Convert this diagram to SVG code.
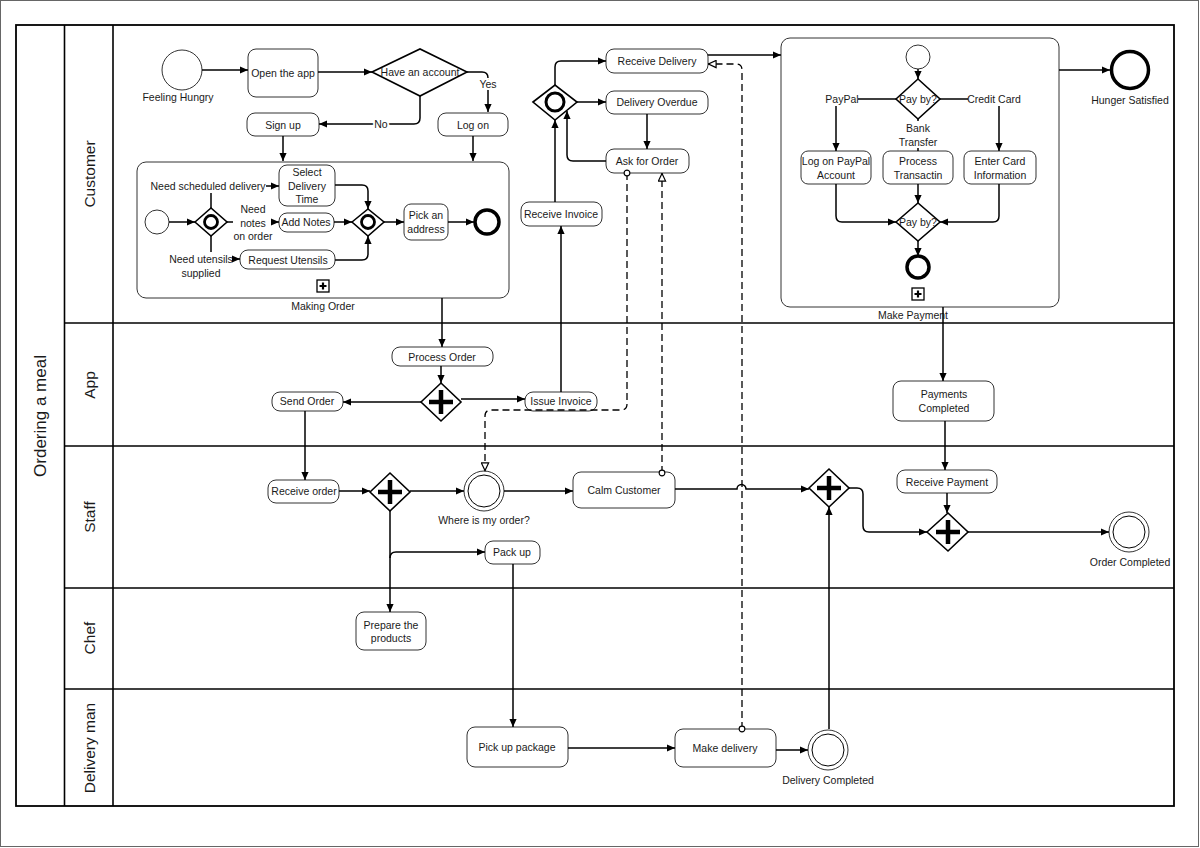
<svg xmlns="http://www.w3.org/2000/svg" width="1200" height="848" viewBox="0 0 1200 848">
<style>
text{font-family:"Liberation Sans",Arial,sans-serif;font-size:10.5px;fill:#1a1a1a;text-anchor:middle;dominant-baseline:central}
.lane{font-size:15.5px}
.pool{font-size:17px}
.task{fill:#fff;stroke:#333;stroke-width:1}
.sub{fill:#fff;stroke:#333;stroke-width:1}
.gw{fill:#fff;stroke:#000;stroke-width:1.6}
.plus{stroke:#000;stroke-width:4.5;fill:none}
.ev{fill:#fff;stroke:#333;stroke-width:1}
.end{fill:#fff;stroke:#000;stroke-width:3.5}
.flow{fill:none;stroke:#000;stroke-width:1.5;marker-end:url(#arr)}
.line{fill:none;stroke:#000;stroke-width:1.5}
.msg{fill:none;stroke:#000;stroke-width:1.3;stroke-dasharray:7,4;marker-start:url(#dot);marker-end:url(#open)}
.halo{stroke:#fff;stroke-width:4;paint-order:stroke}
.sep{stroke:#000;stroke-width:1.6;fill:none}
</style>
<defs>
<marker id="arr" viewBox="0 0 10 10" refX="10" refY="5" markerWidth="9" markerHeight="8" markerUnits="userSpaceOnUse" orient="auto"><path d="M0,0.5 L10,5 L0,9.5 z" fill="#000"/></marker>
<marker id="open" viewBox="0 0 10 10" refX="10" refY="5" markerWidth="10" markerHeight="9" markerUnits="userSpaceOnUse" orient="auto"><path d="M1,1 L9.5,5 L1,9 z" fill="#fff" stroke="#000" stroke-width="1.3"/></marker>
<marker id="dot" viewBox="0 0 10 10" refX="5" refY="5" markerWidth="8" markerHeight="8" markerUnits="userSpaceOnUse" orient="auto"><circle cx="5" cy="5" r="3.6" fill="#fff" stroke="#000" stroke-width="1.4"/></marker>
</defs>
<rect x="0" y="0" width="1200" height="848" fill="#fff"/>
<rect x="0.5" y="0.5" width="1198" height="846" fill="none" stroke="#666" stroke-width="1"/>

<g id="pool">
<rect x="16" y="25" width="1158" height="781" fill="none" stroke="#000" stroke-width="1.8"/>
<line class="sep" x1="64.5" y1="25" x2="64.5" y2="806"/>
<line class="sep" x1="113" y1="25" x2="113" y2="806"/>
<line class="sep" x1="64" y1="323" x2="1174" y2="323"/>
<line class="sep" x1="64" y1="446" x2="1174" y2="446"/>
<line class="sep" x1="64" y1="588" x2="1174" y2="588"/>
<line class="sep" x1="64" y1="689" x2="1174" y2="689"/>
<text class="pool" transform="translate(40,416) rotate(-90)">Ordering a meal</text>
<text class="lane" transform="translate(89,174) rotate(-90)">Customer</text>
<text class="lane" transform="translate(89,385) rotate(-90)">App</text>
<text class="lane" transform="translate(89,517) rotate(-90)">Staff</text>
<text class="lane" transform="translate(89,638) rotate(-90)">Chef</text>
<text class="lane" transform="translate(89,748) rotate(-90)">Delivery man</text>
</g>

<g id="subprocess-making-order">
<rect class="sub" x="137" y="162" width="372" height="136" rx="9"/>
<rect x="317" y="280" width="12" height="12" fill="#fff" stroke="#000" stroke-width="1.3"/>
<path d="M323,282.5 V289.5 M319.5,286 H326.5" stroke="#000" stroke-width="2.2"/>
<text x="323" y="306">Making Order</text>
</g>
<g id="subprocess-make-payment">
<rect class="sub" x="781" y="38" width="278" height="269" rx="9"/>
<rect x="912" y="288" width="12" height="12" fill="#fff" stroke="#000" stroke-width="1.3"/>
<path d="M918,290.5 V297.5 M914.5,294 H921.5" stroke="#000" stroke-width="2.2"/>
<text x="913" y="315">Make Payment</text>
</g>

<g id="feeling-hungry"><circle class="ev" cx="182" cy="70" r="20"/><text x="178" y="97">Feeling Hungry</text></g>
<g id="open-the-app"><rect class="task" x="248" y="49" width="70" height="48" rx="8"/><text x="283" y="73">Open the app</text></g>
<g id="have-an-account"><polygon class="gw" points="372,72 420,49 467,72 420,96"/><text x="420" y="72">Have an account</text></g>
<g id="sign-up"><rect class="task" x="247" y="113" width="72" height="23" rx="8"/><text x="283" y="125">Sign up</text></g>
<g id="log-on"><rect class="task" x="438" y="113" width="70" height="23" rx="8"/><text x="473" y="125">Log on</text></g>

<g id="mo-start"><circle class="ev" cx="157" cy="222" r="12"/></g>
<g id="mo-split"><polygon class="gw" points="195,222 211,208 227,222 211,236"/><circle cx="211" cy="222" r="6.5" fill="none" stroke="#000" stroke-width="2.8"/></g>
<g id="mo-labels">
<text x="208" y="186">Need scheduled delivery</text>
<text x="253" y="209">Need</text><text x="253" y="223">notes</text><text x="253" y="236">on order</text>
<text x="201" y="259">Need utensils</text><text x="201" y="273">supplied</text>
</g>
<g id="select-delivery-time"><rect class="task" x="279" y="165" width="56" height="41" rx="8"/><text x="307" y="172">Select</text><text x="307" y="186">Delivery</text><text x="307" y="199">Time</text></g>
<g id="add-notes"><rect class="task" x="279" y="213" width="55" height="19" rx="8"/><text x="306" y="222">Add Notes</text></g>
<g id="request-utensils"><rect class="task" x="240" y="250" width="95" height="19" rx="8"/><text x="288" y="260">Request Utensils</text></g>
<g id="mo-merge"><polygon class="gw" points="352,222 368,209 384,222 368,236"/><circle cx="368" cy="222" r="6.5" fill="none" stroke="#000" stroke-width="2.8"/></g>
<g id="pick-an-address"><rect class="task" x="404" y="204" width="44" height="36" rx="7"/><text x="426" y="215">Pick an</text><text x="426" y="229">address</text></g>
<g id="mo-end"><circle class="end" cx="487" cy="222" r="12" stroke-width="3.5"/></g>

<g id="event-gateway"><polygon class="gw" points="533,102 555,85 577,102 555,120"/><circle cx="555" cy="102" r="9" fill="none" stroke="#000" stroke-width="3"/></g>
<g id="receive-delivery"><rect class="task" x="606" y="49" width="102" height="24" rx="8"/><text x="657" y="61">Receive Delivery</text></g>
<g id="delivery-overdue"><rect class="task" x="606" y="91" width="102" height="23" rx="8"/><text x="657" y="102">Delivery Overdue</text></g>
<g id="ask-for-order"><rect class="task" x="606" y="149" width="83" height="24" rx="8"/><text x="647" y="161">Ask for Order</text></g>
<g id="receive-invoice"><rect class="task" x="521" y="202" width="81" height="24" rx="8"/><text x="561" y="214">Receive Invoice</text></g>

<g id="mp-start"><circle class="ev" cx="918" cy="57" r="12"/></g>
<g id="pay-by-split"><polygon class="gw" points="896,99 918,79 940,99 918,119"/><text x="918" y="99">Pay by?</text></g>
<g id="mp-labels"><text x="842" y="99">PayPal</text><text x="994" y="99">Credit Card</text><text x="918" y="128">Bank</text><text x="918" y="142">Transfer</text></g>
<g id="log-on-paypal"><rect class="task" x="801" y="151" width="70" height="33" rx="7"/><text x="836" y="161">Log on PayPal</text><text x="836" y="175">Account</text></g>
<g id="process-transactin"><rect class="task" x="883" y="151" width="70" height="33" rx="7"/><text x="918" y="161">Process</text><text x="918" y="175">Transactin</text></g>
<g id="enter-card-information"><rect class="task" x="964" y="151" width="72" height="33" rx="7"/><text x="1000" y="161">Enter Card</text><text x="1000" y="175">Information</text></g>
<g id="pay-by-merge"><polygon class="gw" points="896,222 918,203 940,222 918,241"/><text x="918" y="222">Pay by?</text></g>
<g id="mp-end"><circle class="end" cx="918" cy="267" r="11" stroke-width="3.5"/></g>
<g id="hunger-satisfied"><circle class="end" cx="1130" cy="70" r="18.5" stroke-width="5"/><text x="1130" y="100">Hunger Satisfied</text></g>

<g id="process-order"><rect class="task" x="392" y="347" width="101" height="19" rx="8"/><text x="442" y="357">Process Order</text></g>
<g id="app-parallel"><polygon class="gw" points="421,402 441,383 461,402 441,421"/><path class="plus" d="M441,390 V414 M429,402 H453"/></g>
<g id="send-order"><rect class="task" x="272" y="392" width="71" height="19" rx="8"/><text x="307" y="401">Send Order</text></g>
<g id="issue-invoice"><rect class="task" x="525" y="392" width="72" height="19" rx="8"/><text x="561" y="401">Issue Invoice</text></g>
<g id="payments-completed"><rect class="task" x="893" y="381" width="101" height="40" rx="8"/><text x="944" y="394">Payments</text><text x="944" y="408">Completed</text></g>

<g id="receive-order"><rect class="task" x="268" y="480" width="71" height="23" rx="8"/><text x="304" y="491">Receive order</text></g>
<g id="staff-parallel"><polygon class="gw" points="370,492 390,473 410,492 390,511"/><path class="plus" d="M390,480 V504 M378,492 H402"/></g>
<g id="where-is-my-order"><circle class="ev" cx="484" cy="491" r="20" stroke="#000"/><circle cx="484" cy="491" r="16" fill="none" stroke="#000" stroke-width="1"/><text x="484" y="520">Where is my order?</text></g>
<g id="calm-customer"><rect class="task" x="573" y="472" width="102" height="36" rx="8"/><text x="624" y="490">Calm Customer</text></g>
<g id="upper-parallel"><polygon class="gw" points="809,488 829,469 849,488 829,507"/><path class="plus" d="M829,476 V500 M817,488 H841"/></g>
<g id="receive-payment"><rect class="task" x="897" y="470" width="100" height="23" rx="8"/><text x="947" y="482">Receive Payment</text></g>
<g id="lower-parallel"><polygon class="gw" points="927,532 948,513 968,532 948,551"/><path class="plus" d="M948,520 V544 M936,532 H960"/></g>
<g id="order-completed"><circle class="ev" cx="1129" cy="532" r="20" stroke="#000"/><circle cx="1129" cy="532" r="16" fill="none" stroke="#000" stroke-width="1"/><text x="1130" y="562">Order Completed</text></g>
<g id="pack-up"><rect class="task" x="485" y="541" width="55" height="23" rx="8"/><text x="512" y="552">Pack up</text></g>

<g id="prepare-the-products"><rect class="task" x="356" y="612" width="70" height="38" rx="8"/><text x="391" y="625">Prepare the</text><text x="391" y="638">products</text></g>

<g id="pick-up-package"><rect class="task" x="467" y="727" width="101" height="40" rx="8"/><text x="517" y="747">Pick up package</text></g>
<g id="make-delivery"><rect class="task" x="675" y="729" width="101" height="38" rx="8"/><text x="725" y="748">Make delivery</text></g>
<g id="delivery-completed"><circle class="ev" cx="828" cy="750" r="20" stroke="#000"/><circle cx="828" cy="750" r="16" fill="none" stroke="#000" stroke-width="1"/><text x="828" y="780">Delivery Completed</text></g>

<g id="connectors">
<path class="flow" d="M202,70 H248"/>
<path class="flow" d="M318,72 H372"/>
<path class="flow" d="M467,72 H482 Q488,72 488,78 V112"/>
<path class="flow" d="M420,96 V118 Q420,124 414,124 H319"/>
<path class="flow" d="M283,136 V161"/>
<path class="flow" d="M473,136 V161"/>
<path class="flow" d="M169,222 H195"/>
<path class="line" d="M211,193 V208 M211,236 V252 M227,222 H233"/>
<path class="flow" d="M266,186 H279"/>
<path class="flow" d="M273,222 H279"/>
<path class="flow" d="M232,259 H240"/>
<path class="flow" d="M335,185 H362 Q368,185 368,191 V209"/>
<path class="flow" d="M334,222 H352"/>
<path class="flow" d="M335,260 H362 Q368,260 368,254 V236"/>
<path class="flow" d="M384,222 H404"/>
<path class="flow" d="M448,222 H474"/>
<path class="flow" d="M442,298 V347"/>
<path class="flow" d="M441,366 V383"/>
<path class="flow" d="M421,402 H343"/>
<path class="flow" d="M461,399 H525"/>
<path class="flow" d="M561,392 V226"/>
<path class="flow" d="M555,202 V120"/>
<path class="flow" d="M555,85 V67 Q555,61 561,61 H606"/>
<path class="flow" d="M577,102 H606"/>
<path class="flow" d="M647,114 V149"/>
<path class="flow" d="M606,161 H573 Q567,161 567,155 V111"/>
<path class="flow" d="M708,55 H781"/>
<path class="flow" d="M1059,70 H1110"/>
<path class="flow" d="M918,69 V79"/>
<path class="line" d="M896,99 H858 M940,99 H968"/>
<path class="flow" d="M836,106 V151"/>
<path class="flow" d="M999,106 V151"/>
<path class="line" d="M918,119 V121 M918,148 V151"/>
<path class="flow" d="M836,184 V216 Q836,222 842,222 H896"/>
<path class="flow" d="M918,184 V203"/>
<path class="flow" d="M999,184 V216 Q999,222 993,222 H940"/>
<path class="flow" d="M918,241 V256"/>
<path class="flow" d="M943,307 V381"/>
<path class="flow" d="M945,421 V470"/>
<path class="flow" d="M947,493 V513"/>
<path class="flow" d="M305,411 V480"/>
<path class="flow" d="M339,491 H370"/>
<path class="flow" d="M410,491 H464"/>
<path class="flow" d="M504,491 H573"/>
<path class="flow" d="M675,489 H737 A4.5,4.5 0 0 1 746,489 H809"/>
<path class="flow" d="M849,488 H857 Q863,488 863,494 V526 Q863,532 869,532 H927"/>
<path class="flow" d="M968,532 H1109"/>
<path class="flow" d="M390,511 V612" stroke-width="2.2"/>
<path class="flow" d="M390,558 Q390,552 396,552 H485"/>
<path class="flow" d="M513,564 V727"/>
<path class="flow" d="M568,748 H675"/>
<path class="flow" d="M776,750 H808"/>
<path class="flow" d="M829,729 V507"/>
<path class="msg" d="M742,729 V70 Q742,64 736,64 H708"/>
<path class="msg" d="M627,173 V404 Q627,410 621,410 H491 Q485,410 485,416 V471"/>
<path class="msg" d="M662,473 V173"/>
<text class="halo" x="488" y="84">Yes</text>
<text class="halo" x="381" y="124">No</text>
</g>
</svg>
